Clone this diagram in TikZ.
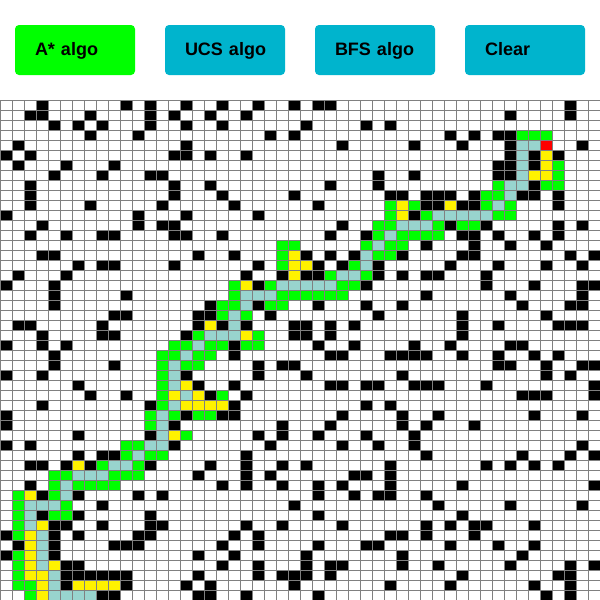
\documentclass[tikz,border=0pt]{standalone}
\usepackage{fontspec}
\setmainfont{Liberation Sans}
\definecolor{btnteal}{RGB}{0,180,205}
\definecolor{routeteal}{RGB}{152,212,206}
\definecolor{gridgray}{RGB}{128,128,128}
\tikzset{
    btn/.style={rectangle,rounded corners=4pt,minimum width=120pt,minimum height=50pt,
        text width=80pt,inner xsep=20pt,inner ysep=0pt,align=left,text height=13.5pt,text depth=3.5pt,
        font=\fontsize{18pt}{18pt}\selectfont\bfseries,text=black},
    wall/.style={fill=black},
    open/.style={fill=green},
    closed/.style={fill=yellow},
    route/.style={fill=routeteal},
    goal/.style={fill=red},
    gridline/.style={gridgray,line width=1pt}
}
% one list per kind of cell: row/{columns}
\newcommand{\cells}[2]{
    \foreach \r/\cs in {#2}
        \foreach \c in \cs
            \path[#1] ({12*\c},{100+10*\r}) rectangle +(12,10);
}
\begin{document}
\begin{tikzpicture}[x=1pt,y=-1pt]
    \useasboundingbox (0,0) rectangle (600,600);
    \fill[white] (0,0) rectangle (600,600);
    % buttons
    \node[btn,fill=green] (astar) at (75,50) {A*~algo};
    \node[btn,fill=btnteal] (ucs) at (225,50) {UCS~algo};
    \node[btn,fill=btnteal] (bfs) at (375,50) {BFS~algo};
    \node[btn,fill=btnteal] (clear) at (525,50) {Clear};
    % walls
    \cells{wall}{0/{3,10,12,15,18,21,24,26,27,47},1/{2,3,7,12,14,17,20,42,47},2/{4,6,8,12,15,18,25,30,32},
        3/{7,11,22,24,37,39,41,42},4/{1,15,28,34,38,42,48},5/{0,2,14,15,17,20,42,44,46},
        6/{1,5,9,41,42,44},7/{4,8,12,13,31,34,41,42},8/{2,14,17,27,31,44},
        9/{2,14,18,24,32,33,35,36,37,39,43,44,46},10/{2,7,13,19,26,35,36,38,39,46},11/{0,11,15,21,34},
        12/{3,11,13,14,28,37,40,46,48},13/{2,5,8,9,14,15,18,27,30,38,39,41,44,46},14/{35,39,42,45},
        15/{3,4,16,19,25,27,29,33,38,39,47,49},16/{6,8,9,14,21,26,28,31,37,41,45,48},
        17/{1,5,20,23,25,26,31,33,35,36,40},18/{0,4,21,30,40,44,48,49},19/{4,10,35,42,48},
        20/{4,17,21,26,30,33,43,47,48},21/{9,10,16,17,22,31,38,45},22/{1,2,8,16,18,20,24,25,27,29,38,41,46,47,48},
        23/{3,8,9,15,24,25,27,38},24/{0,3,5,19,26,29,34,37,42,43},25/{4,19,27,28,32,33,34,35,38,41,44,46},
        26/{4,9,21,23,24,41,42,45,48,49},27/{0,3,15,21,25,33,45,47},28/{6,16,19,27,28,30,31,34,35,36,40,49},
        29/{7,10,17,20,43,44,45,49},30/{3,12,19,30,32},31/{0,15,18,19,28,33,36,44,48},32/{0,14,23,27,33,35,39},
        33/{6,12,21,23,26,30,34},34/{0,2,14,22,28,31,34,48},35/{6,8,9,20,35,43,47,49},
        36/{2,3,5,7,12,17,20,23,25,32,40,42,44,46},37/{16,20,22,29,30,32},38/{2,18,20,23,26,28,32,38,49},
        39/{3,6,11,13,26,29,31,32,35},40/{8,24,36,42,48},41/{3,6,12,26,38},42/{4,5,8,12,13,20,23,28,35,37,39,40,44},
        43/{0,4,6,11,12,19,21,32,33,35,39},44/{1,4,9,10,11,18,21,26,30,31,37,41,44},45/{0,4,16,19,25,33,43},
        46/{5,6,18,21,25,27,28,33,36,42,47,49},47/{5,6,7,8,9,10,16,21,23,24,25,27,38,46,47},
        48/{5,10,15,17,24,32,37,44,47},49/{8,9,16,17,20,26,45,47}}
    % open set
    \cells{open}{3/{43,44,45},6/{46},7/{46},8/{41,45,46},9/{40,41},10/{32,34,40,42},11/{32,35,41,42},
        12/{31,32,36,38,39},13/{31,33,34,35,36},14/{23,24,30,32,33},15/{23,31,32},16/{23,29},17/{27,30},
        18/{19,22,28,29},19/{19,23,24,25,26,27,28},20/{18,19,22,23},21/{18,20},23/{16,21},24/{14,15,17,18,20,21},
        25/{13,14,16,17},26/{13,15,16},27/{13},28/{13},29/{13,18},30/{13},31/{12,14,16,17},32/{12},33/{15},
        34/{10,11},35/{10,12,13},36/{8,11},37/{4,5,9,10,11},38/{4,6,7,8,9},39/{1,4},40/{1,5},41/{1,4,5},
        42/{1},43/{1},45/{1},46/{1},47/{1},48/{1,2},49/{2}}
    % closed set
    \cells{closed}{5/{45},6/{45},7/{44,45},10/{33,37},11/{33},15/{24},16/{24,25},17/{24},18/{20},22/{17},23/{20},
        28/{15},29/{14,16},30/{15,16,17,18},33/{14},36/{6},39/{2},42/{3},43/{2},44/{2},45/{2},46/{2,4},47/{2,3},
        48/{3,6,7,8,9},49/{3}}
    % final route
    \cells{route}{4/{43,44},5/{43},6/{43},7/{43},8/{42,43},9/{42},10/{41},11/{36,37,38,39,40},12/{33,34,35},
        13/{32},14/{31},15/{30},16/{30},17/{28,29},18/{23,24,25,26,27},19/{20,21,22},20/{20},21/{19},22/{19},
        23/{17,18,19},24/{16},25/{15},26/{14},27/{14},28/{14},29/{15},30/{14},31/{13},32/{13},33/{13},34/{12,13},
        35/{11},36/{9,10},37/{6,7,8},38/{5},39/{5},40/{2,3,4},41/{2},42/{2},43/{3},44/{3},45/{3},46/{3},47/{4},
        48/{4},49/{4,5,6,7}}
    \cells{goal}{4/{45}}
    % grid
    \foreach \c in {0,...,49}
        \draw[gridline] ({12*\c+0.5},100)--({12*\c+0.5},600);
    \foreach \r in {0,...,49}
        \draw[gridline] (0,{100+10*\r+0.5})--(600,{100+10*\r+0.5});
\end{tikzpicture}
\end{document}
